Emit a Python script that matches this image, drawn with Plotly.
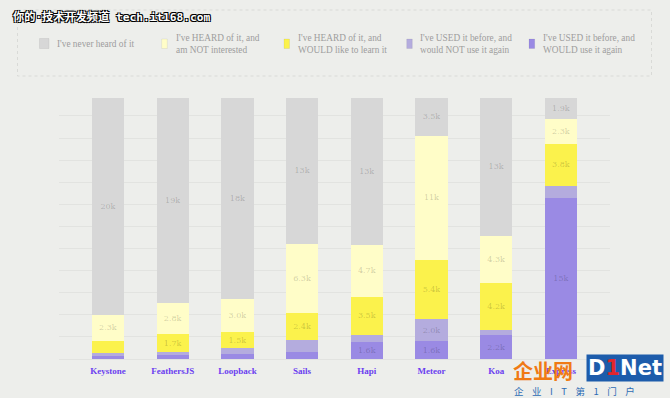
import plotly.graph_objects as go

frameworks = ["Keystone", "FeathersJS", "Loopback", "Sails", "Hapi", "Meteor", "Koa", "Express"]
never_heard = [19660, 18560, 18250, 13250, 13320, 3460, 12520, 1910]
heard_not_interested = [2330, 2830, 2960, 6260, 4680, 11220, 4260, 2260]
heard_would_learn = [1090, 1660, 1480, 2440, 3460, 5380, 4220, 3780]
used_not_again = [270, 180, 540, 1090, 630, 1990, 480, 1150]
used_again = [300, 420, 420, 610, 1560, 1600, 2170, 14550]

series_names = [
    "I've USED it before, and<br>WOULD use it again",
    "I've USED it before, and<br>would NOT use it again",
    "I've HEARD of it, and<br>WOULD like to learn it",
    "I've HEARD of it, and<br>am NOT interested",
    "I've never heard of it",
]
series_values = [used_again, used_not_again, heard_would_learn, heard_not_interested, never_heard]
series_colors = ["#9a8ae4", "#b4acde", "#fbf24c", "#fffdc8", "#d7d7d7"]

BG = "#edeeeb"


def fmt(v):
    if v < 1300:
        return ""
    k = v / 1000
    if k >= 10:
        return f"{int(k + 0.5)}k"
    return f"{k:.1f}k"


fig = go.Figure()
for name, vals, col in zip(series_names, series_values, series_colors):
    fig.add_trace(go.Bar(
        x=frameworks, y=vals, name=name,
        marker=dict(color=col, line=dict(width=0)),
        width=0.5,
        text=[fmt(v) for v in vals],
        textposition="inside", insidetextanchor="middle",
        constraintext="none", textangle=0,
        textfont=dict(family="DejaVu Serif", size=8, color="rgba(0,0,0,0.2)"),
        hoverinfo="skip", showlegend=False,
    ))

# pixel -> paper helpers (plot area 59..610 x, 95..359 y)
L, R, T, B = 59, 610, 95, 359


def px(x):
    return (x - L) / (R - L)


def py(y):
    return (B - y) / (B - T)


shapes = [dict(type="rect", xref="paper", yref="paper",
               x0=px(17.5), x1=px(651.5), y0=py(10), y1=py(76),
               line=dict(color="#d9dad7", width=1, dash="dot"), layer="below")]
annotations = []

legend_items = [
    (series_names[4], series_colors[4], 39.5, 49, 38.5, 48.5, 55),
    (series_names[3], series_colors[3], 161.7, 167.3, 39, 48.5, 174),
    (series_names[2], series_colors[2], 284, 289.5, 39, 48.5, 296),
    (series_names[1], series_colors[1], 406.7, 412.3, 39, 48.5, 418.3),
    (series_names[0], series_colors[0], 529, 534.7, 39, 48.5, 540.7),
]
for name, col, x0, x1, y0, y1, tx in legend_items:
    shapes.append(dict(type="rect", xref="paper", yref="paper",
                       x0=px(x0), x1=px(x1), y0=py(y1), y1=py(y0),
                       fillcolor=col, line=dict(color="rgba(0,0,0,0.06)", width=1)))
    annotations.append(dict(xref="paper", yref="paper", x=px(tx), y=py(44),
                            xanchor="left", yanchor="middle", align="left",
                            text=name, showarrow=False,
                            font=dict(family="Liberation Serif", size=9.3, color="#9d9d9d")))

# watermarks
outline = "-1px -1px 0 #000, 1px -1px 0 #000, -1px 1px 0 #000, 1px 1px 0 #000"
annotations.append(dict(xref="paper", yref="paper", x=px(11), y=py(17),
                        xanchor="left", yanchor="middle", showarrow=False,
                        text="你的·技术开发频道 tech.it168.com",
                        font=dict(family="DejaVu Sans Mono, Noto Sans CJK SC", size=11.2,
                                  color="white", weight="bold", shadow=outline)))
annotations.append(dict(xref="paper", yref="paper", x=px(586), y=py(367.5),
                        xanchor="left", yanchor="middle", showarrow=False,
                        bgcolor="#1d5cab", borderpad=1,
                        text="D<span style='color:#e3262b'>1</span>Net",
                        font=dict(family="DejaVu Sans", size=21, color="white", weight="bold")))
annotations.append(dict(xref="paper", yref="paper", x=px(511), y=py(370),
                        xanchor="left", yanchor="middle", showarrow=False,
                        text="企业网",
                        font=dict(family="Noto Sans CJK SC", size=20, color="#f07a14", weight="bold")))
annotations.append(dict(xref="paper", yref="paper", x=px(512), y=py(391),
                        xanchor="left", yanchor="middle", showarrow=False,
                        text="\u00a0\u00a0\u00a0\u00a0".join(list("企业IT第1门户")),
                        font=dict(family="Noto Sans CJK SC", size=9.5, color="#2d6cb4")))

fig.update_layout(
    width=670, height=398,
    margin=dict(l=L, r=670 - R, t=T, b=398 - B, pad=0),
    paper_bgcolor=BG, plot_bgcolor=BG,
    barmode="stack", bargap=0.5,
    shapes=shapes, annotations=annotations,
    xaxis=dict(range=[-0.757, 7.759], showgrid=False, zeroline=False, showline=False,
               ticks="", ticklabelstandoff=5,
               tickfont=dict(family="Liberation Serif", size=9, color="#6b3ef0", weight="bold")),
    yaxis=dict(range=[0, 23900], dtick=2000, showticklabels=False, ticks="",
               gridcolor="#e2e3e0", gridwidth=1, zeroline=True, zerolinecolor="#e2e3e0",
               zerolinewidth=1, showline=False),
)

fig.write_html("out.html", config={"displayModeBar": False},
               post_script="document.body.style.margin='0';document.body.style.background='%s';" % BG)
